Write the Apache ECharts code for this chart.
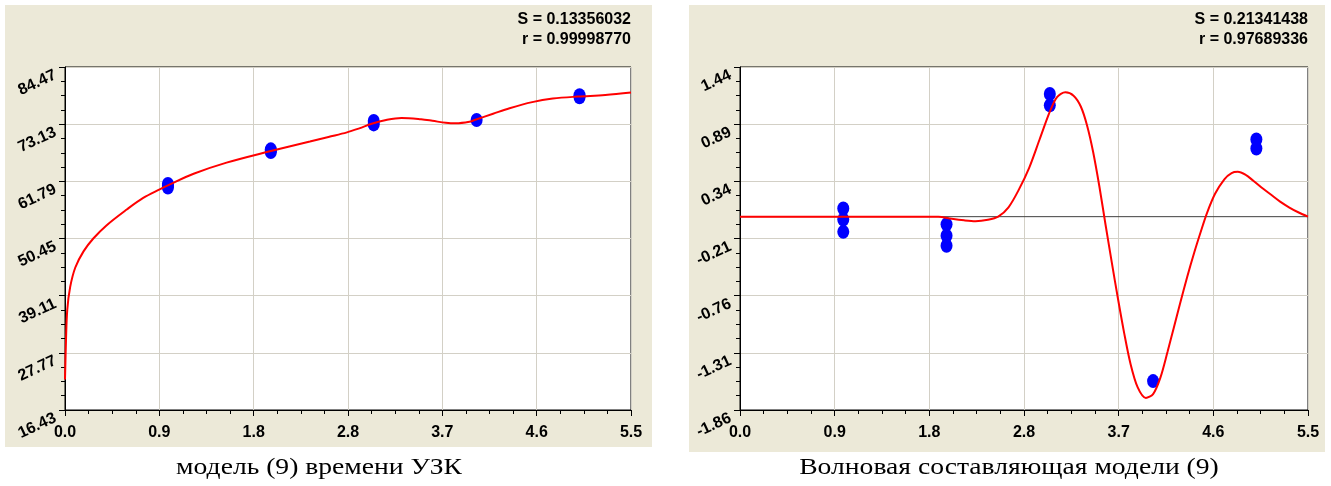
<!DOCTYPE html>
<html><head><meta charset="utf-8">
<script src="https://cdn.jsdelivr.net/npm/echarts@6/dist/echarts.min.js"></script>
<style>html,body{margin:0;padding:0;background:#fff}#c{width:1331px;height:486px}</style>
</head><body><div id="c"></div>
<script>
// ---- data ----
const xTickLabels = ['0.0','0.9','1.8','2.8','3.7','4.6','5.5'];
const leftYTickLabels = ['16.43','27.77','39.11','50.45','61.79','73.13','84.47'];
const rightYTickLabels = ['-1.86','-1.31','-0.76','-0.21','0.34','0.89','1.44'];

const leftPointsX = [1,1,1,2,2,2,3,3,4,5,5];
const leftPointsY = [61.25,60.9,60.56,68.13,67.87,67.61,73.78,73.08,73.97,78.86,78.48];

const leftCurveX = [0,0.01,0.022,0.05,0.1,0.18,0.275,0.4,0.6,0.76,0.92,1.0,1.25,1.57,1.98,2.38,2.56,2.74,2.86,2.98,3.12,3.27,3.46,3.57,3.7,3.8,3.93,3.98,4.16,4.32,4.54,4.74,4.98,5.25,5.5];
const leftCurveY = [22.5,30.5,36.3,40.8,44.7,47.9,50.45,53.0,56.2,58.5,60.2,61.0,63.3,65.5,67.7,69.7,70.6,71.5,72.3,73.2,73.95,74.35,74.1,73.8,73.4,73.3,73.6,73.95,75.2,76.3,77.5,78.2,78.6,78.9,79.4];

const rightPointsX = [1,1,1,2,2,2,3,3,4,5,5];
const rightPointsY = [0.078,-0.027,-0.146,-0.074,-0.184,-0.28,1.18,1.071,-1.582,0.743,0.656];

const rightCurveX = [0,1.92,2.05,2.17,2.28,2.4,2.5,2.6,2.7,2.8,2.9,3.0,3.07,3.15,3.23,3.3,3.36,3.42,3.48,3.54,3.6,3.66,3.72,3.78,3.85,3.93,4.0,4.07,4.14,4.2,4.26,4.33,4.4,4.46,4.52,4.6,4.69,4.76,4.82,4.9,4.96,5.05,5.14,5.23,5.32,5.41,5.5];
const rightCurveY = [0,0,-0.02,-0.035,-0.043,-0.03,0,0.09,0.26,0.47,0.74,1.01,1.15,1.196,1.164,1.06,0.88,0.62,0.29,-0.08,-0.44,-0.79,-1.12,-1.41,-1.64,-1.744,-1.707,-1.551,-1.30,-1.07,-0.84,-0.58,-0.34,-0.15,0.03,0.22,0.36,0.42,0.431,0.40,0.354,0.28,0.213,0.145,0.088,0.04,0.0];

const leftStats = ['S = 0.13356032','r = 0.99998770'];
const rightStats = ['S = 0.21341438','r = 0.97689336'];
const captions = ['модель (9) времени УЗК','Волновая составляющая модели (9)'];

// ---- helpers ----
function pick(labels, v){
  let best = labels[0], d = Infinity;
  labels.forEach(l => { const dd = Math.abs(parseFloat(l) - v); if (dd < d){ d = dd; best = l; } });
  return best;
}
const zip = (xs, ys) => xs.map((x, i) => [x, ys[i]]);
const LABEL_FONT = '"Liberation Sans", Arial, sans-serif';
const SERIF = '"Liberation Serif", "Times New Roman", serif';

function xAxisCfg(gi){
  return {
    type:'value', gridIndex:gi, min:0, max:5.5, interval:5.5/6,
    axisLine:{show:true, onZero:false, lineStyle:{color:'#000', width:1}},
    axisTick:{show:true, inside:false, length:6, lineStyle:{color:'#000'}},
    minorTick:{show:true, splitNumber:4, length:4, lineStyle:{color:'#000'}},
    splitLine:{show:true, lineStyle:{color:'#d3d0c6', width:1}},
    axisLabel:{formatter: v => pick(xTickLabels, v), color:'#000', fontFamily:LABEL_FONT, fontWeight:'bold', fontSize:16, margin:15}
  };
}
function yAxisCfg(gi, labels, min, max, interval){
  return {
    type:'value', gridIndex:gi, min:min, max:max, interval:interval,
    axisLine:{show:true, onZero:false, lineStyle:{color:'#000', width:1}},
    axisTick:{show:true, inside:false, length:6, lineStyle:{color:'#000'}},
    minorTick:{show:true, splitNumber:4, length:4, lineStyle:{color:'#000'}},
    splitLine:{show:true, lineStyle:{color:'#d3d0c6', width:1}},
    axisLabel:{formatter: v => pick(labels, v), color:'#000', fontFamily:LABEL_FONT, fontWeight:'bold', fontSize:16, margin:13, rotate:25, verticalAlign:'top'}
  };
}
function txt(x, y, text, font, align, sx){
  return {type:'text', x:x, y:y, scaleX:sx || 1, style:{text:text, align:align, verticalAlign:'middle', textAlign:align, textVerticalAlign:'middle', font:font, fill:'#000'}};
}

const chart = echarts.init(document.getElementById('c'), null, {renderer:'canvas'});
const gridBase = {show:true, backgroundColor:'#fff', borderColor:'#000', borderWidth:1, containLabel:false, outerBoundsMode:'none', top:67, height:343};
const statFont = 'bold 16px ' + LABEL_FONT;
const capFont = '24px ' + SERIF;

chart.setOption({
  animation:false,
  backgroundColor:'#fff',
  grid:[
    Object.assign({left:65, width:566}, gridBase),
    Object.assign({left:740, width:568}, gridBase)
  ],
  xAxis:[xAxisCfg(0), xAxisCfg(1)],
  yAxis:[
    yAxisCfg(0, leftYTickLabels, 16.43, 84.47, 11.34),
    yAxisCfg(1, rightYTickLabels, -1.86, 1.44, 0.55)
  ],
  graphic:[
    {type:'rect', z:-10, shape:{x:5, y:5, width:647, height:442}, style:{fill:'#ECE9D8'}},
    {type:'rect', z:-10, shape:{x:689, y:5, width:636, height:447}, style:{fill:'#ECE9D8'}},
    txt(631, 20, leftStats[0], statFont, 'right'),
    txt(631, 40, leftStats[1], statFont, 'right'),
    txt(1308, 20, rightStats[0], statFont, 'right'),
    txt(1308, 40, rightStats[1], statFont, 'right'),
    txt(319, 468, captions[0], capFont, 'center', 1.15),
    txt(1009, 468, captions[1], capFont, 'center', 1.15)
  ],
  series:[
    {type:'scatter', xAxisIndex:0, yAxisIndex:0, data:zip(leftPointsX, leftPointsY), symbol:'circle', symbolSize:[12,14], itemStyle:{color:'#0000ff', opacity:1}, z:2, silent:true},
    {type:'line', xAxisIndex:0, yAxisIndex:0, data:zip(leftCurveX, leftCurveY), showSymbol:false, symbol:'none', smooth:0.35, lineStyle:{color:'#ff0000', width:2}, z:3, silent:true},
    {type:'line', xAxisIndex:1, yAxisIndex:1, data:[[0,0],[5.5,0]], showSymbol:false, symbol:'none', lineStyle:{color:'#404040', width:1}, z:1, silent:true},
    {type:'scatter', xAxisIndex:1, yAxisIndex:1, data:zip(rightPointsX, rightPointsY), symbol:'circle', symbolSize:[12,14], itemStyle:{color:'#0000ff', opacity:1}, z:2, silent:true},
    {type:'line', xAxisIndex:1, yAxisIndex:1, data:zip(rightCurveX, rightCurveY), showSymbol:false, symbol:'none', smooth:0.3, lineStyle:{color:'#ff0000', width:2}, z:3, silent:true}
  ]
});
</script>
</body></html>
